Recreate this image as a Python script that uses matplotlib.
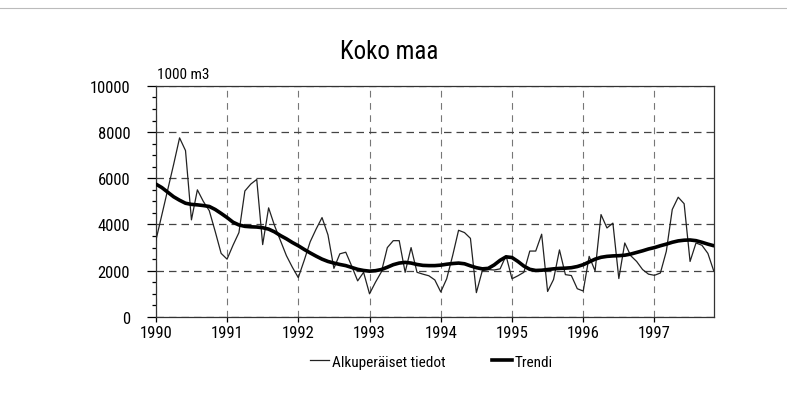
import matplotlib
matplotlib.use("Agg")
import matplotlib.pyplot as plt
from matplotlib.ticker import MultipleLocator
from matplotlib.lines import Line2D

plt.rcParams['font.family'] = ['Roboto Condensed', 'Liberation Sans', 'DejaVu Sans']

title = "Koko maa"
unit_label = "1000 m3"
years = [1990, 1991, 1992, 1993, 1994, 1995, 1996, 1997]
series_names = ["Alkuperäiset tiedot", "Trendi"]

# Monthly values, Jan 1990 .. Nov 1997
original = [
    3300, 4400, 5500, 6600, 7750, 7200, 4200, 5500, 5000, 4600, 3700, 2750,
    2500, 3100, 3650, 5450, 5750, 5950, 3130, 4720, 3950, 3300, 2650, 2150,
    1700, 2450, 3250, 3800, 4300, 3550, 2100, 2730, 2800, 2200, 1560, 1930,
    1000, 1500, 1950, 3000, 3300, 3300, 1930, 3000, 1930, 1850, 1780, 1600,
    1080, 1650, 2650, 3750, 3650, 3400, 1050, 2000, 2050, 2030, 2080, 2650,
    1650, 1780, 1930, 2850, 2850, 3580, 1100, 1620, 2900, 1830, 1790, 1220,
    1120, 2620, 1990, 4430, 3850, 4060, 1660, 3200, 2650, 2400, 2050, 1850,
    1800, 1900, 2840, 4650, 5180, 4900, 2400, 3200, 3100, 2750, 1980,
]
trend = [
    5750, 5600, 5400, 5200, 5050, 4920, 4870, 4850, 4820, 4780, 4650, 4480,
    4300, 4100, 3980, 3920, 3900, 3890, 3860, 3800, 3680, 3520, 3380, 3220,
    3080, 2920, 2770, 2630, 2500, 2400, 2330, 2270, 2220, 2140, 2060, 2010,
    1980, 2000, 2050, 2150, 2260, 2330, 2360, 2330, 2270, 2230, 2220, 2220,
    2240, 2280, 2310, 2330, 2300, 2210, 2130, 2080, 2100, 2250, 2450, 2600,
    2570, 2400, 2200, 2060, 2010, 2020, 2050, 2080, 2100, 2110, 2130, 2180,
    2260, 2380, 2500, 2580, 2620, 2640, 2650, 2670, 2720, 2790, 2860, 2940,
    3000, 3080, 3150, 3230, 3290, 3320, 3330, 3300, 3230, 3150, 3080,
]
months = list(range(len(original)))

fig = plt.figure(figsize=(7.87, 4.06), dpi=100)
ax = fig.add_axes([0.198, 0.217, 0.709, 0.569])

ax.plot(months, original, color="#222222", lw=0.9, zorder=3)
ax.plot(months, trend, color="black", lw=2.6, zorder=4, solid_capstyle="round")

ax.set_xlim(0, len(original) - 1)
ax.set_ylim(0, 10000)
ax.set_xticks([12 * i for i in range(len(years))])
ax.set_xticklabels([str(y) for y in years])
ax.yaxis.set_major_locator(MultipleLocator(2000))
ax.yaxis.set_minor_locator(MultipleLocator(500))
ax.tick_params(axis="y", which="major", length=6.5, width=0.9, labelsize=12, pad=12)
ax.tick_params(axis="y", which="minor", length=3, width=0.9)
ax.tick_params(axis="x", which="major", length=3.6, width=0.9, labelsize=12, pad=2)

ax.grid(axis="y", which="major", color="#444444", linestyle=(0, (6, 4)), lw=0.9)
ax.grid(axis="x", which="major", color="#777777", linestyle=(0, (6, 5)), lw=0.8)
for s in ax.spines.values():
    s.set_linewidth(0.9)
    s.set_color("#333333")

fig.text(0.494, 0.872, title, ha="center", va="center", fontsize=18)
fig.text(0.200, 0.815, unit_label, ha="left", va="center", fontsize=11)

handles = [Line2D([], [], color="#222222", lw=0.9), Line2D([], [], color="black", lw=2.6)]
fig.legend(handles, series_names, loc="center", bbox_to_anchor=(0.548, 0.107), ncol=2,
           frameon=False, fontsize=11, handlelength=1.3, handletextpad=0.2, columnspacing=3.0)

fig.add_artist(Line2D([0, 1], [0.978, 0.978], color="#bbbbbb", lw=0.8, transform=fig.transFigure))

fig.savefig("out.png", dpi=100)
